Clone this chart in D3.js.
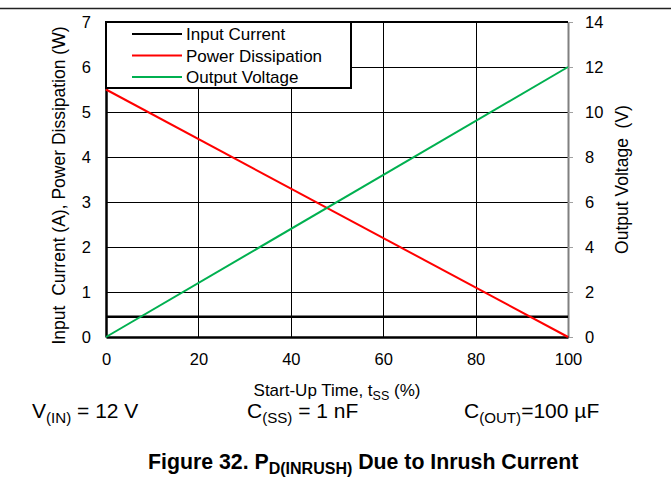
<!DOCTYPE html>
<html>
<head>
<meta charset="utf-8">
<script src="https://cdn.jsdelivr.net/npm/d3@7"></script>
<style>
  body { margin: 0; background: #fff; }
  text { font-family: "Liberation Sans", Arial, sans-serif; fill: #000; white-space: pre; }
  .tick text { font-size: 16.5px; font-family: "Liberation Sans", Arial, sans-serif; }
</style>
</head>
<body>
<div id="chart"></div>
<script>
// data
var time = [0, 100];                 // start-up time, %
var inputCurrent = [0.45, 0.45];     // A
var powerDiss = [5.5, 0];            // W
var outputVoltage = [0, 12];         // V (right axis)
var xTicks = [0, 20, 40, 60, 80, 100];
var yLeftTicks = [0, 1, 2, 3, 4, 5, 6, 7];
var yRightTicks = [0, 2, 4, 6, 8, 10, 12, 14];
var seriesNames = ["Input Current", "Power Dissipation", "Output Voltage"];
var seriesColors = ["#000000", "#ff0000", "#00b050"];

var W = 671, H = 500;
var margin = {top: 22, right: 103, bottom: 163, left: 106},
    width = W - margin.left - margin.right,
    height = H - margin.top - margin.bottom;

var svg = d3.select("#chart").append("svg")
    .attr("width", W)
    .attr("height", H);

// top rule of the page
svg.append("line")
    .attr("x1", 0).attr("x2", W)
    .attr("y1", 8.5).attr("y2", 8.5)
    .attr("stroke", "#222").attr("stroke-width", 1.5);

var g = svg.append("g")
    .attr("transform", "translate(" + margin.left + "," + margin.top + ")");

var x = d3.scaleLinear().domain([0, 100]).range([0, width]);
var yL = d3.scaleLinear().domain([0, 7]).range([height, 0]);
var yR = d3.scaleLinear().domain([0, 14]).range([height, 0]);

// grid
g.append("g").selectAll("line")
  .data(yLeftTicks.slice(1, -1))
  .enter().append("line")
    .attr("x1", 0).attr("x2", width)
    .attr("y1", function(d) { return Math.round(yL(d)) + 0.5; })
    .attr("y2", function(d) { return Math.round(yL(d)) + 0.5; })
    .attr("stroke", "#000").attr("stroke-width", 1);
g.append("g").selectAll("line")
  .data(xTicks.slice(1, -1))
  .enter().append("line")
    .attr("x1", function(d) { return Math.round(x(d)) + 0.5; })
    .attr("x2", function(d) { return Math.round(x(d)) + 0.5; })
    .attr("y1", 0).attr("y2", height)
    .attr("stroke", "#000").attr("stroke-width", 1);

// right axis (grey)
var rightAxis = g.append("g")
    .attr("transform", "translate(" + width + ",0)")
    .call(d3.axisRight(yR).tickValues(yRightTicks).tickFormat(d3.format("d"))
      .tickSize(5).tickPadding(12).tickSizeOuter(0));
rightAxis.select(".domain").attr("stroke", "#808080").attr("stroke-width", 2);
rightAxis.selectAll(".tick line").attr("stroke", "#a0a0a0").attr("stroke-width", 1);

// left axis
var leftAxis = g.append("g")
    .call(d3.axisLeft(yL).tickValues(yLeftTicks).tickFormat(d3.format("d"))
      .tickSize(0).tickPadding(15));
leftAxis.select(".domain").attr("stroke", "#000").attr("stroke-width", 2.5);

// bottom axis
var bottomAxis = g.append("g")
    .attr("transform", "translate(0," + height + ")")
    .call(d3.axisBottom(x).tickValues(xTicks).tickFormat(d3.format("d"))
      .tickSize(0).tickPadding(16));
bottomAxis.select(".domain").attr("stroke", "#000").attr("stroke-width", 2.5);

// top border
g.append("line")
    .attr("x1", 0).attr("x2", width)
    .attr("y1", 0).attr("y2", 0)
    .attr("stroke", "#000").attr("stroke-width", 2);

// series
var lineL = d3.line()
    .x(function(d, i) { return x(time[i]); })
    .y(function(d) { return yL(d); });
var lineR = d3.line()
    .x(function(d, i) { return x(time[i]); })
    .y(function(d) { return yR(d); });

g.append("path").datum(inputCurrent)
    .attr("d", lineL).attr("fill", "none")
    .attr("stroke", seriesColors[0]).attr("stroke-width", 2.5);
g.append("path").datum(powerDiss)
    .attr("d", lineL).attr("fill", "none")
    .attr("stroke", seriesColors[1]).attr("stroke-width", 2);
g.append("path").datum(outputVoltage)
    .attr("d", lineR).attr("fill", "none")
    .attr("stroke", seriesColors[2]).attr("stroke-width", 2);

// legend box
var leg = g.append("g");
leg.append("rect")
    .attr("x", 0).attr("y", 0)
    .attr("width", 245).attr("height", 66)
    .attr("fill", "#fff")
    .attr("stroke", "#000").attr("stroke-width", 2);
var items = leg.selectAll(".item")
  .data(seriesNames)
  .enter().append("g")
    .attr("transform", function(d, i) { return "translate(0," + (12 + i * 21.5) + ")"; });
items.append("line")
    .attr("x1", 26).attr("x2", 76)
    .attr("y1", 0).attr("y2", 0)
    .attr("stroke", function(d, i) { return seriesColors[i]; })
    .attr("stroke-width", 2);
items.append("text")
    .attr("x", 80).attr("y", 6)
    .style("font-size", "17px")
    .text(function(d) { return d; });

// axis titles
svg.append("text")
    .attr("transform", "translate(65," + (margin.top + height / 2 + 6) + ") rotate(-90)")
    .attr("text-anchor", "middle")
    .style("font-size", "17.5px")
    .text("Input  Current (A), Power Dissipation (W)");

svg.append("text")
    .attr("transform", "translate(628," + (margin.top + height / 2) + ") rotate(-90)")
    .attr("text-anchor", "middle")
    .style("font-size", "17.5px")
    .text("Output Voltage  (V)");

var xt = svg.append("text")
    .attr("x", 337).attr("y", 396)
    .attr("text-anchor", "middle")
    .style("font-size", "17px");
xt.append("tspan").text("Start-Up Time, t");
xt.append("tspan").attr("dy", 4).style("font-size", "12.5px").text("SS");
xt.append("tspan").attr("dy", -4).text(" (%)");

// conditions row
function subText(xp, yp, main, sub, rest, size) {
  var t = svg.append("text").attr("x", xp).attr("y", yp).style("font-size", size + "px");
  t.append("tspan").text(main);
  t.append("tspan").attr("dy", 5).style("font-size", (size * 0.72) + "px").text(sub);
  t.append("tspan").attr("dy", -5).text(rest);
  return t;
}
subText(32, 418, "V", "(IN)", " = 12 V", 21);
subText(247, 418, "C", "(SS)", " = 1 nF", 21);
subText(464, 418, "C", "(OUT)", "=100 µF", 21);

// caption
var cap = svg.append("text")
    .attr("x", 148).attr("y", 469)
    .style("font-size", "21.3px").style("font-weight", "bold");
cap.append("tspan").text("Figure 32. P");
cap.append("tspan").attr("dy", 5).style("font-size", "16px").text("D(INRUSH)");
cap.append("tspan").attr("dy", -5).text(" Due to Inrush Current");
</script>
</body>
</html>
